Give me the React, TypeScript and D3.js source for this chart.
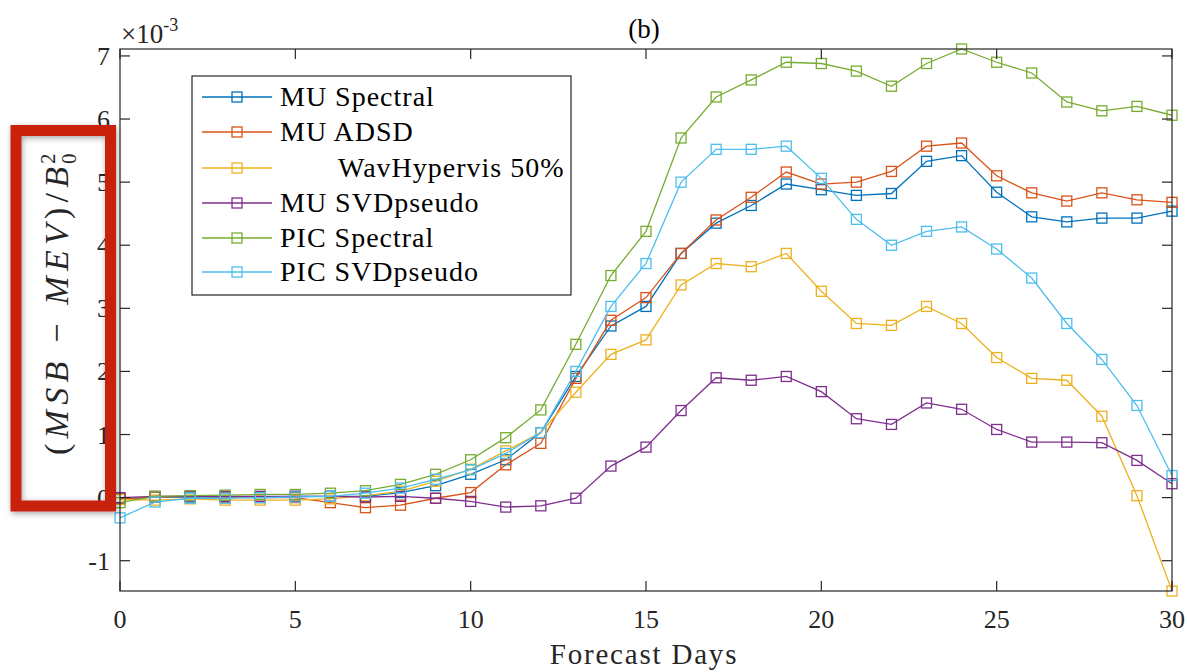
import React from "react";
import * as d3 from "d3";

const days = d3.range(0, 31);
const seriesNames = ["MU Spectral", "MU ADSD", "WavHypervis 50%", "MU SVDpseudo", "PIC Spectral", "PIC SVDpseudo"];
const seriesColors = ["#0072BD", "#D95319", "#EDB120", "#7E2F8E", "#77AC30", "#4DBEEE"];

const muSpectral = [-0.02, 0.01, 0.01, 0.01, 0.01, 0.02, 0.02, 0.02, 0.08, 0.19, 0.37, 0.6, 1.03, 1.92, 2.72, 3.03, 3.87, 4.35, 4.63, 4.97, 4.88, 4.79, 4.82, 5.33, 5.42, 4.84, 4.45, 4.37, 4.43, 4.43, 4.54];
const muADSD = [-0.02, 0.01, 0.02, 0.01, 0.0, 0.0, -0.08, -0.16, -0.12, -0.01, 0.08, 0.52, 0.86, 1.89, 2.81, 3.17, 3.87, 4.4, 4.76, 5.16, 4.97, 5.0, 5.17, 5.57, 5.62, 5.1, 4.83, 4.7, 4.83, 4.72, 4.68];
const wavHypervis = [-0.03, -0.04, -0.02, -0.04, -0.04, -0.04, -0.02, 0.03, 0.1, 0.26, 0.45, 0.74, 1.03, 1.67, 2.27, 2.5, 3.37, 3.71, 3.66, 3.87, 3.27, 2.76, 2.73, 3.03, 2.76, 2.22, 1.89, 1.86, 1.29, 0.03, -1.48];
const muSVDpseudo = [0.0, 0.02, 0.02, 0.02, 0.02, 0.02, 0.02, 0.01, 0.02, -0.01, -0.06, -0.15, -0.13, -0.01, 0.5, 0.8, 1.38, 1.9, 1.86, 1.92, 1.68, 1.25, 1.16, 1.5, 1.4, 1.08, 0.88, 0.88, 0.87, 0.59, 0.22];
const picSpectral = [-0.08, 0.02, 0.03, 0.04, 0.05, 0.05, 0.07, 0.11, 0.21, 0.37, 0.6, 0.95, 1.39, 2.43, 3.52, 4.22, 5.7, 6.35, 6.62, 6.9, 6.88, 6.76, 6.52, 6.88, 7.11, 6.9, 6.73, 6.27, 6.13, 6.2, 6.06];
const picSVDpseudo = [-0.32, -0.07, -0.01, -0.01, 0.0, 0.01, 0.02, 0.07, 0.15, 0.29, 0.44, 0.7, 1.03, 2.0, 3.03, 3.71, 5.0, 5.52, 5.52, 5.57, 5.06, 4.41, 4.0, 4.22, 4.29, 3.94, 3.48, 2.76, 2.19, 1.46, 0.35];

const seriesValues = [muSpectral, muADSD, wavHypervis, muSVDpseudo, picSpectral, picSVDpseudo];
const xTicks = [0, 5, 10, 15, 20, 25, 30];
const yTicks = [-1, 0, 1, 2, 3, 4, 5, 6, 7];

const FONT = "'Liberation Serif', 'Times New Roman', serif";
const AX = "#262626";

export default function App() {
  const left = 120, right = 1172, top = 49, bottom = 591;
  const x = d3.scaleLinear().domain([0, 30]).range([left, right]);
  const y = d3.scaleLinear().domain([-1.48, 7.11]).range([bottom, top]);
  const line = d3.line<number>().x((_, i) => x(days[i])).y((v) => y(v));
  const ms = 10;

  const legendX = 192, legendY = 76, legendW = 379, legendH = 219;
  const legendRows = [97, 132, 168, 203, 238, 272];

  return (
    <svg width={1187} height={672} style={{ position: "absolute", left: 0, top: 0, background: "#fff" }} fontFamily={FONT}>
      <defs>
        <filter id="shadow" x="-20%" y="-10%" width="140%" height="120%">
          <feDropShadow dx="1" dy="2" stdDeviation="3" floodColor="#000" floodOpacity="0.35" />
        </filter>
      </defs>
      <rect x={0} y={0} width={1187} height={672} fill="#fff" />
      {/* title */}
      <text x={644} y={38} fontSize={27} textAnchor="middle" fill="#000">(b)</text>
      {/* exponent */}
      <text x={121} y={43} fontSize={27} fill={AX}>
        ×10<tspan fontSize={18} dy={-12}>-3</tspan>
      </text>
      {/* series */}
      {seriesValues.map((vals, si) => (
        <g key={si}>
          <path d={line(vals) || ""} fill="none" stroke={seriesColors[si]} strokeWidth={1.3} />
          {vals.map((v, i) => (
            <rect key={i} x={x(days[i]) - ms / 2} y={y(v) - ms / 2} width={ms} height={ms} fill="none" stroke={seriesColors[si]} strokeWidth={1.3} />
          ))}
        </g>
      ))}
      {/* axes box */}
      <rect x={left} y={top} width={right - left} height={bottom - top} fill="none" stroke={AX} strokeWidth={1.2} />
      {xTicks.map((t) => (
        <g key={"x" + t}>
          <line x1={x(t)} x2={x(t)} y1={bottom} y2={bottom - 10} stroke={AX} strokeWidth={1.2} />
          <line x1={x(t)} x2={x(t)} y1={top} y2={top + 10} stroke={AX} strokeWidth={1.2} />
          <text x={x(t)} y={628} fontSize={26} textAnchor="middle" fill={AX}>{t}</text>
        </g>
      ))}
      {yTicks.map((t) => (
        <g key={"y" + t}>
          <line x1={left} x2={left + 10} y1={y(t)} y2={y(t)} stroke={AX} strokeWidth={1.2} />
          <line x1={right} x2={right - 10} y1={y(t)} y2={y(t)} stroke={AX} strokeWidth={1.2} />
          <text x={110} y={y(t) + 9} fontSize={26} textAnchor="end" fill={AX}>{t}</text>
        </g>
      ))}
      {/* x label */}
      <text x={644} y={664} fontSize={29} textAnchor="middle" letterSpacing={1.8} fill={AX}>Forecast Days</text>
      {/* y label */}
      <g transform="translate(68, 0) rotate(-90)">
        <text x={-455} y={0} fontSize={34} textLength={288} lengthAdjust="spacing" fill={AX}>
          (<tspan fontStyle="italic">MSB</tspan> − <tspan fontStyle="italic">MEV</tspan>)/<tspan fontStyle="italic">B</tspan>
        </text>
        <text x={-164} y={8} fontSize={21} fill={AX}>0</text>
        <text x={-164} y={-13} fontSize={21} fill={AX}>2</text>
      </g>
      {/* legend */}
      <rect x={legendX} y={legendY} width={legendW} height={legendH} fill="#fff" stroke={AX} strokeWidth={1.2} />
      {seriesNames.map((name, i) => (
        <g key={name}>
          <line x1={202} x2={272} y1={legendRows[i]} y2={legendRows[i]} stroke={seriesColors[i]} strokeWidth={1.3} />
          <rect x={237 - ms / 2} y={legendRows[i] - ms / 2} width={ms} height={ms} fill="none" stroke={seriesColors[i]} strokeWidth={1.3} />
          <text x={i === 2 ? 338 : 280} y={legendRows[i] + 9} fontSize={28} letterSpacing={1} fill="#000">{name}</text>
        </g>
      ))}
      {/* red highlight box */}
      <rect x={16} y={130.5} width={94.5} height={375.5} fill="none" stroke="#C8230F" strokeWidth={11} filter="url(#shadow)" />
    </svg>
  );
}
